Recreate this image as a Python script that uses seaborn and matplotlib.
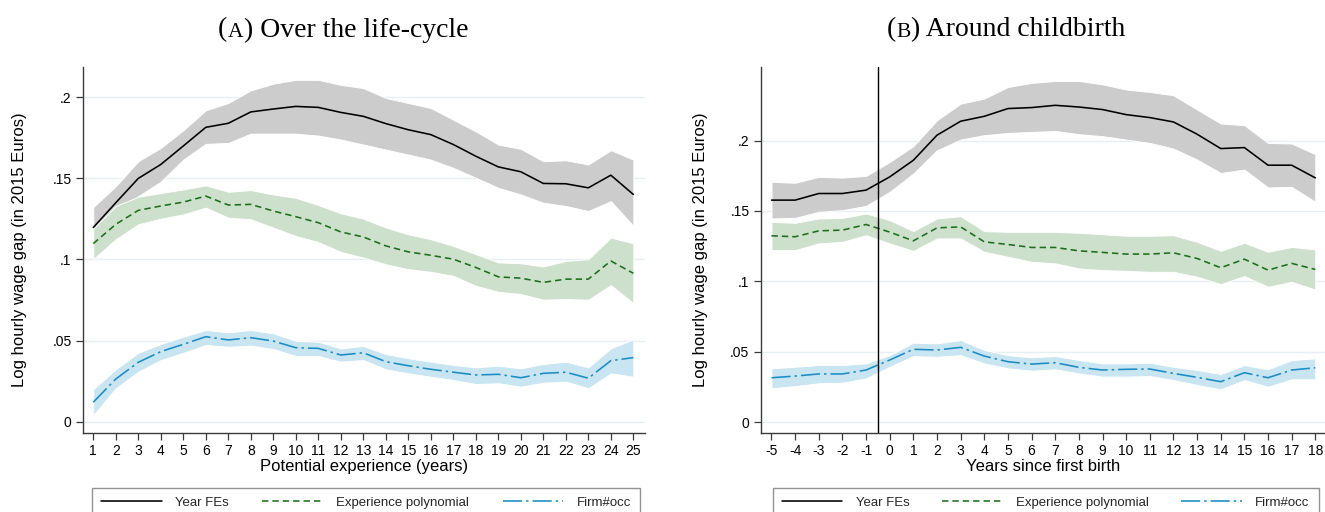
import numpy as np
import pandas as pd
import matplotlib
matplotlib.use("Agg")
import matplotlib.pyplot as plt
import seaborn as sns
from matplotlib.offsetbox import TextArea, HPacker, AnnotationBbox

# ---------------- data ----------------
exp_years = list(range(1, 26))
yfe_A = [.1197, .135, .150, .1586, .170, .1815, .184, .191, .1928, .1944, .1938, .1907, .1883,
         .1838, .180, .177, .1709, .1637, .1571, .1541, .1469, .1467, .1442, .152, .1401]
yfe_A_hi = [.1323, .1452, .1606, .1688, .1797, .192, .1965, .2043, .2084, .2108, .2108, .2077, .2057,
            .1996, .1965, .1934, .1862, .179, .1709, .1682, .1606, .1612, .1586, .1674, .1616]
yfe_A_lo = [.107, .125, .139, .148, .1616, .1713, .1719, .1776, .1776, .1776, .1764, .174, .1709,
            .1678, .1647, .1616, .1565, .1504, .1442, .1401, .135, .133, .1299, .136, .1207]
poly_A = [.1098, .1217, .1303, .1330, .1354, .1391, .1336, .134, .1299, .1264, .1227, .117, .1139,
          .1084, .1047, .1026, .1002, .0951, .0893, .0885, .0859, .0879, .0879, .0991, .0915]
poly_A_hi = [.119, .133, .1387, .141, .1432, .1457, .1418, .1428, .1401, .138, .1336, .1285, .1252,
             .1197, .1155, .1125, .1084, .1033, .0982, .0977, .0957, .0991, .1002, .1135, .110]
poly_A_lo = [.1002, .1125, .1217, .1252, .1278, .132, .1258, .1248, .1197, .1145, .1108, .1047, .1012,
             .0971, .094, .0924, .0899, .0838, .0801, .0787, .0752, .0756, .0752, .0842, .0731]
firm_A = [.012, .0263, .0366, .0432, .0477, .0524, .0504, .0518, .0497, .0456, .0452, .0411, .0425,
          .037, .0345, .0323, .0305, .0288, .0292, .0271, .0298, .0305, .0268, .0376, .0395]
firm_A_hi = [.020, .0323, .0425, .0479, .0524, .0565, .0551, .0565, .0545, .0499, .0493, .0452, .0467,
             .0417, .0391, .037, .035, .0335, .0345, .0329, .0356, .037, .0335, .0452, .0508]
firm_A_lo = [.0041, .0206, .0308, .038, .0425, .0473, .0462, .0469, .0448, .0405, .0405, .037, .038,
             .0323, .0298, .0277, .0257, .0232, .0237, .0216, .024, .0247, .0206, .0298, .0277]

birth_years = list(range(-5, 19))
yfe_B = [.1577, .1577, .1624, .1624, .1648, .1742, .186, .2038, .2137, .2172, .2227, .2234,
         .225, .2238, .222, .2184, .2163, .2132, .2045, .1943, .195, .1825, .1825, .1735]
yfe_B_hi = [.1707, .170, .1742, .1737, .1749, .1848, .196, .2144, .2262, .2298, .238, .2409,
            .2423, .2423, .2399, .2362, .2345, .2321, .222, .2121, .2109, .1983, .1979, .1903]
yfe_B_lo = [.1447, .1451, .1494, .1506, .1536, .1636, .1766, .1931, .2007, .2038, .2054, .2061,
            .2068, .2045, .2031, .2007, .1983, .1943, .1865, .177, .1794, .1667, .1671, .1565]
poly_B = [.1324, .1317, .1359, .1364, .1404, .1350, .1288, .138, .1387, .1281, .1262, .1241,
          .1241, .1217, .1206, .1194, .1194, .1203, .1163, .1097, .1158, .108, .1128, .1085]
poly_B_hi = [.1423, .1416, .1447, .1451, .1482, .1435, .1357, .1447, .1463, .1357, .1352, .1352,
             .1352, .1345, .1335, .1324, .1324, .1328, .1281, .1217, .1274, .121, .1245, .1227]
poly_B_lo = [.1222, .1222, .127, .1281, .1328, .1270, .1217, .1305, .1305, .121, .1175, .1139,
             .1128, .1092, .108, .1075, .1068, .1068, .1033, .0981, .1038, .0962, .0997, .0943]
firm_B = [.0316, .0328, .0343, .0343, .0371, .0442, .0518, .0513, .0532, .047, .043, .0413,
          .0423, .039, .0371, .0376, .0378, .0347, .0319, .0288, .0352, .0316, .0371, .0387]
firm_B_hi = [.0383, .0394, .0406, .0406, .0418, .0477, .0565, .056, .0584, .0513, .0477, .0461,
             .047, .0442, .0418, .0418, .0423, .0394, .0371, .0343, .0406, .0376, .0442, .0454]
firm_B_lo = [.0241, .0257, .0277, .0281, .0312, .0394, .047, .0465, .0477, .0418, .0383, .0366,
             .0376, .0347, .0324, .0324, .0328, .030, .0265, .0234, .030, .0252, .0305, .0305]

series_names = ["Year FEs", "Experience polynomial", "Firm#occ"]
y_ticks = [0, .05, .1, .15, .2]
y_ticklabels = ["0", ".05", ".1", ".15", ".2"]
titles = [("(", "A", ") Over the life-cycle"), ("(", "B", ") Around childbirth")]
xlabels = ["Potential experience (years)", "Years since first birth"]
ylabel = "Log hourly wage gap (in 2015 Euros)"

# ---------------- style ----------------
sns.set_theme(style="white")
plt.rcParams['font.family'] = ['Liberation Sans', 'DejaVu Sans']

line_colors = ["black", "#1c6e1c", "#1a8cc6"]
band_colors = ["#cccccc", "#cde0cc", "#c8e5f1"]
line_styles = ["-", (0, (4, 2.5)), (0, (12, 2.5, 1.5, 2.5))]
spine_col = "#3a3a3a"

W, H = 1325, 512
fig = plt.figure(figsize=(W / 100, H / 100), dpi=100)
axL = fig.add_axes([82.7 / W, 1 - 432.7 / H, (644.6 - 82.7) / W, (432.7 - 67) / H])
axR = fig.add_axes([760.5 / W, 1 - 432.7 / H, (W - 760.5) / W, (432.7 - 67) / H])


def panel(ax, x, bands, lines, xlim, ylim, xlabel, ylab_x):
    for (lo, hi), bc in zip(bands, band_colors):
        ax.fill_between(x, lo, hi, facecolor=bc, edgecolor="white", linewidth=0.7, zorder=1)
    handles = []
    for y, c, ls, name in zip(lines, line_colors, line_styles, series_names):
        df = pd.DataFrame({"x": x, "y": y})
        sns.lineplot(data=df, x="x", y="y", ax=ax, color=c, linewidth=1.15,
                     linestyle=ls, errorbar=None, zorder=3)
        handles.append(ax.lines[-1])
    if ax.get_legend() is not None:
        ax.get_legend().remove()
    ax.set_xlim(*xlim)
    ax.set_ylim(*ylim)
    ax.set_xticks(x)
    ax.set_xticklabels([str(v) for v in x])
    ax.set_yticks(y_ticks)
    ax.set_yticklabels(y_ticklabels)
    ax.yaxis.grid(True, color="#e6eff1", linewidth=1.0)
    ax.xaxis.grid(False)
    ax.set_axisbelow(True)
    for s in ["top", "right"]:
        ax.spines[s].set_visible(False)
    for s in ["left", "bottom"]:
        ax.spines[s].set_color(spine_col)
        ax.spines[s].set_linewidth(1.0)
    ax.tick_params(axis="both", which="major", bottom=True, left=True, direction="out",
                   length=5, width=0.9, color=spine_col, labelsize=10, pad=3,
                   labelcolor="black")
    ax.set_xlabel(xlabel, fontsize=12, color="black")
    ax.xaxis.set_label_coords(0.5, -0.073)
    ax.set_ylabel(ylabel, fontsize=12, color="black")
    ax.yaxis.set_label_coords(ylab_x, 0.5)
    return handles


hL = panel(axL, exp_years,
           [(yfe_A_lo, yfe_A_hi), (poly_A_lo, poly_A_hi), (firm_A_lo, firm_A_hi)],
           [yfe_A, poly_A, firm_A], (0.53, 25.5), (-0.0068, 0.2187), xlabels[0], -0.100)
hR = panel(axR, birth_years,
           [(yfe_B_lo, yfe_B_hi), (poly_B_lo, poly_B_hi), (firm_B_lo, firm_B_hi)],
           [yfe_B, poly_B, firm_B], (-5.465, 18.41), (-0.0074, 0.2522), xlabels[1], -0.093)
axR.axvline(-0.5, color="black", linewidth=1.0, zorder=4)

# legends (boxed, below each panel)
for handles, x0, x1 in [(hL, 92, 640), (hR, 772.5, 1318.5)]:
    top = 1 - 487.5 / H
    leg = fig.legend(handles, series_names, loc="upper left",
                     bbox_to_anchor=(x0 / W, top - 0.1, (x1 - x0) / W, 0.1),
                     mode="expand", ncol=3, frameon=True, fancybox=False, shadow=False,
                     fontsize=9.5, handlelength=4.6, handletextpad=1.0, borderaxespad=0,
                     borderpad=0.7)
    leg.get_frame().set_edgecolor("#777777")
    leg.get_frame().set_linewidth(1.0)

# titles with small-caps panel letter
for (pre, letter, post), xc in zip(titles, [343, 1006]):
    props = dict(family=["Liberation Serif", "DejaVu Serif"], color="black")
    parts = [TextArea(pre, textprops=dict(size=20, **props)),
             TextArea(letter, textprops=dict(size=15.5, **props)),
             TextArea(post, textprops=dict(size=20, **props))]
    pack = HPacker(children=parts, align="baseline", pad=0, sep=0.5)
    ab = AnnotationBbox(pack, (xc / W, 1 - 30 / H), xycoords="figure fraction",
                        frameon=False, box_alignment=(0.5, 0.5), pad=0)
    fig.add_artist(ab)

fig.savefig("out.png", dpi=100)
